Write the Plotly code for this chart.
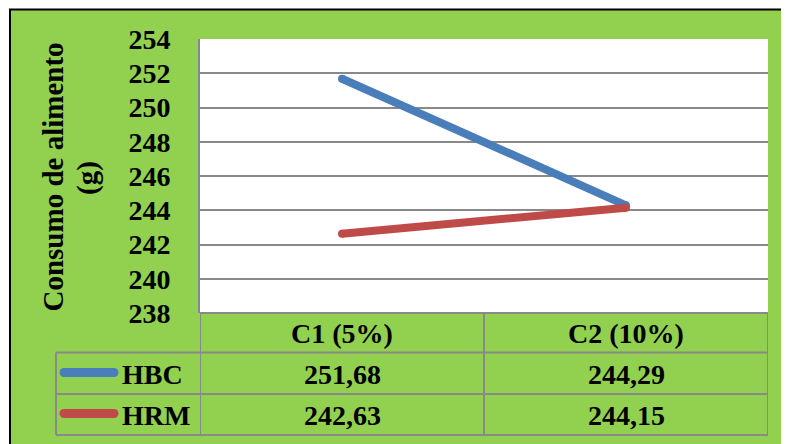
import plotly.graph_objects as go

categories = ["C1 (5%)", "C2 (10%)"]
series_names = ["HBC", "HRM"]
hbc_values = [251.68, 244.29]
hrm_values = [242.63, 244.15]
hbc_labels = ["251,68", "244,29"]
hrm_labels = ["242,63", "244,15"]
y_ticks = [238, 240, 242, 244, 246, 248, 250, 252, 254]

OFF = 8  # page body margin
W, H = 789 - OFF, 444 - OFF
L, R, T, B = 200 - OFF, 768 - OFF, 39 - OFF, 313 - OFF
GREEN = "#92D050"
GRID = "#898989"
BLUE = "#4A7EBB"
RED = "#BE4B48"
FONT = "'Liberation Serif', 'DejaVu Serif', serif"


def px(xp):
    return (xp - OFF - L) / (R - L)


def py(yp):
    return (B - (yp - OFF)) / (B - T)


xs = list(range(len(categories)))

fig = go.Figure()
fig.add_trace(go.Scatter(x=xs, y=hbc_values, mode="lines+markers", name=series_names[0],
                         line=dict(color=BLUE, width=8),
                         marker=dict(color=BLUE, size=8, line=dict(width=0))))
fig.add_trace(go.Scatter(x=xs, y=hrm_values, mode="lines+markers", name=series_names[1],
                         line=dict(color=RED, width=8),
                         marker=dict(color=RED, size=8, line=dict(width=0))))

shapes = []
shapes.append(dict(type="rect", xref="paper", yref="paper", x0=px(10), x1=px(900),
                   y0=py(600), y1=py(9.5), fillcolor=GREEN,
                   line=dict(color="black", width=2), layer="below"))
shapes.append(dict(type="rect", xref="paper", yref="paper", x0=0, x1=1, y0=0, y1=1,
                   fillcolor="white", line=dict(width=0), layer="below"))

gl = dict(color=GRID, width=2)
shapes.append(dict(type="line", xref="paper", yref="paper", x0=0, x1=1, y0=py(313), y1=py(313), line=gl))
for yp in [352.5, 394, 435]:
    shapes.append(dict(type="line", xref="paper", yref="paper", x0=px(56), x1=1, y0=py(yp), y1=py(yp), line=gl))
for xv in [-0.5, 0.5, 1.5]:
    shapes.append(dict(type="line", xref="x", yref="paper", x0=xv, x1=xv, y0=py(313), y1=py(435), line=gl))
shapes.append(dict(type="line", xref="paper", yref="paper", x0=px(56), x1=px(56), y0=py(352.5), y1=py(435), line=gl))
# legend keys with rounded ends
for yp, col in [(372.5, BLUE), (413.5, RED)]:
    shapes.append(dict(type="line", xref="paper", yref="paper", x0=px(64), x1=px(114),
                       y0=py(yp), y1=py(yp), line=dict(color=col, width=9)))
    for xc in [64, 114]:
        shapes.append(dict(type="circle", xref="paper", yref="paper",
                           x0=px(xc - 4.5), x1=px(xc + 4.5), y0=py(yp + 4.5), y1=py(yp - 4.5),
                           fillcolor=col, line=dict(width=0)))

annotations = []
tf = dict(family=FONT, size=28, color="black", weight="bold")
titlef = dict(family=FONT, size=29, color="black", weight="bold")
for i, c in enumerate(categories):
    annotations.append(dict(x=i, y=py(333), xref="x", yref="paper", text=c, showarrow=False,
                            font=tf, xanchor="center", yanchor="middle"))
for i in range(len(categories)):
    annotations.append(dict(x=i, y=py(374), xref="x", yref="paper", text=hbc_labels[i], showarrow=False,
                            font=tf, xanchor="center", yanchor="middle"))
    annotations.append(dict(x=i, y=py(415), xref="x", yref="paper", text=hrm_labels[i], showarrow=False,
                            font=tf, xanchor="center", yanchor="middle"))
for name, yp in zip(series_names, [374, 415]):
    annotations.append(dict(x=px(120), y=py(yp), xref="paper", yref="paper", text=name, showarrow=False,
                            font=tf, xanchor="left", yanchor="middle"))
annotations.append(dict(x=px(52), y=py(177.5), xref="paper", yref="paper", text="Consumo de alimento",
                        showarrow=False, font=titlef, textangle=-90, xanchor="center", yanchor="middle"))
annotations.append(dict(x=px(87), y=py(178), xref="paper", yref="paper", text="(g)",
                        showarrow=False, font=titlef, textangle=-90, xanchor="center", yanchor="middle"))

fig.update_layout(
    width=W, height=H,
    margin=dict(l=L, r=W - R, t=T, b=H - B, pad=0),
    paper_bgcolor="white", plot_bgcolor="white",
    showlegend=False,
    shapes=shapes, annotations=annotations,
    xaxis=dict(range=[-0.5, 1.5], showticklabels=False, showgrid=False, zeroline=False,
               showline=False, ticks=""),
    yaxis=dict(range=[238, 254], tickvals=y_ticks, ticktext=[str(v) for v in y_ticks],
               showgrid=True, gridcolor=GRID, gridwidth=2, zeroline=False,
               showline=True, linecolor=GRID, linewidth=2,
               ticks="outside", ticklen=22, tickcolor="rgba(0,0,0,0)",
               tickfont=tf),
)

fig.write_html("out.html")
